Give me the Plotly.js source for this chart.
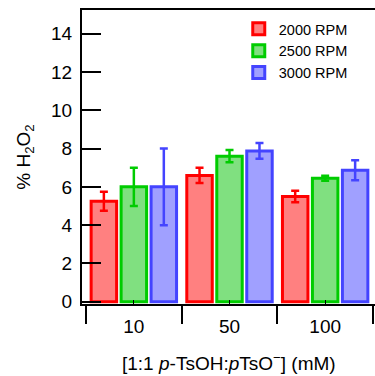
<!DOCTYPE html>
<html>
<head>
<meta charset="utf-8">
<script src="https://cdn.plot.ly/plotly-3.0.1.min.js"></script>
<style>html,body{margin:0;padding:0;background:#fff;}#chart{width:375px;height:376px;}</style>
</head>
<body>
<div id="chart"></div>
<script>
const categories = ["10", "50", "100"];
const seriesNames = ["2000 RPM", "2500 RPM", "3000 RPM"];
const rpm2000 = [5.25, 6.6, 5.5];
const rpm2000Err = [0.5, 0.4, 0.3];
const rpm2500 = [6.0, 7.6, 6.45];
const rpm2500Err = [1.0, 0.32, 0.13];
const rpm3000 = [6.0, 7.88, 6.87];
const rpm3000Err = [2.0, 0.41, 0.52];
const yTicks = [0, 2, 4, 6, 8, 10, 12, 14];
const xTitle = "[1:1 <i>p</i>-TsOH:<i>p</i>TsO<sup>−</sup>] (mM)";
const yTitle = "% H<sub>2</sub>O<sub>2</sub>";

const lineColors = ["#ff0000", "#00cc00", "#4444ff"];
const fillColors = ["#ff8080", "#80e080", "#a0a0ff"];
const values = [rpm2000, rpm2500, rpm3000];
const errs = [rpm2000Err, rpm2500Err, rpm3000Err];

const traces = values.map((v, i) => ({
  type: "bar",
  name: seriesNames[i],
  x: categories,
  y: v,
  marker: { color: fillColors[i], line: { color: lineColors[i], width: 3 } },
  error_y: { type: "data", array: errs[i], visible: true, color: lineColors[i], thickness: 2.5, width: 4 },
  hoverinfo: "skip"
}));
traces.push({
  type: "scatter", mode: "markers", x: categories, y: categories.map(() => null),
  xaxis: "x2", showlegend: false, hoverinfo: "skip"
});

const font = "Liberation Sans, Arial, Helvetica, sans-serif";
const layout = {
  width: 375, height: 376,
  margin: { l: 82, r: 0, t: 10, b: 72 },
  paper_bgcolor: "#fff", plot_bgcolor: "#fff",
  font: { family: font, color: "#000", size: 19 },
  barmode: "group", bargap: 0.06, bargroupgap: 0.15,
  showlegend: true,
  legend: {
    x: 0.535, y: 0.99, xanchor: "left", yanchor: "top",
    font: { family: font, size: 14.5, color: "#000" },
    bgcolor: "rgba(0,0,0,0)", tracegroupgap: 0, itemwidth: 30
  },
  annotations: [{
    text: xTitle, xref: "paper", yref: "paper", x: 0.5, y: -0.197,
    xanchor: "center", yanchor: "middle", showarrow: false,
    font: { family: font, size: 19, color: "#000" }
  }],
  xaxis: {
    type: "category", range: [-0.542, 2.521], categoryorder: "array", categoryarray: categories,
    tickson: "boundaries", ticks: "outside", ticklen: 18, tickwidth: 2, tickcolor: "#000",
    showticklabels: false, showgrid: false, zeroline: false,
    showline: true, linecolor: "#000", linewidth: 2, mirror: true
  },
  xaxis2: {
    type: "category", overlaying: "x", side: "bottom", range: [-0.542, 2.521],
    categoryorder: "array", categoryarray: categories,
    ticks: "inside", ticklen: 4, tickwidth: 1, tickcolor: "#000",
    showticklabels: true, tickfont: { family: font, size: 19 }, ticklabelstandoff: 9,
    showgrid: false, zeroline: false, showline: false
  },
  yaxis: {
    range: [-0.12, 15.24], tickmode: "array", tickvals: yTicks, ticktext: yTicks.map(String),
    ticks: "inside", ticklen: 19, tickwidth: 2, tickcolor: "#000",
    tickfont: { family: font, size: 19 }, ticklabelstandoff: 4,
    showgrid: false, zeroline: false, showline: true, linecolor: "#000", linewidth: 2,
    title: { text: yTitle, font: { family: font, size: 19 }, standoff: 15 }
  }
};
Plotly.newPlot("chart", traces, layout, { displayModeBar: false, staticPlot: true });
</script>
</body>
</html>
